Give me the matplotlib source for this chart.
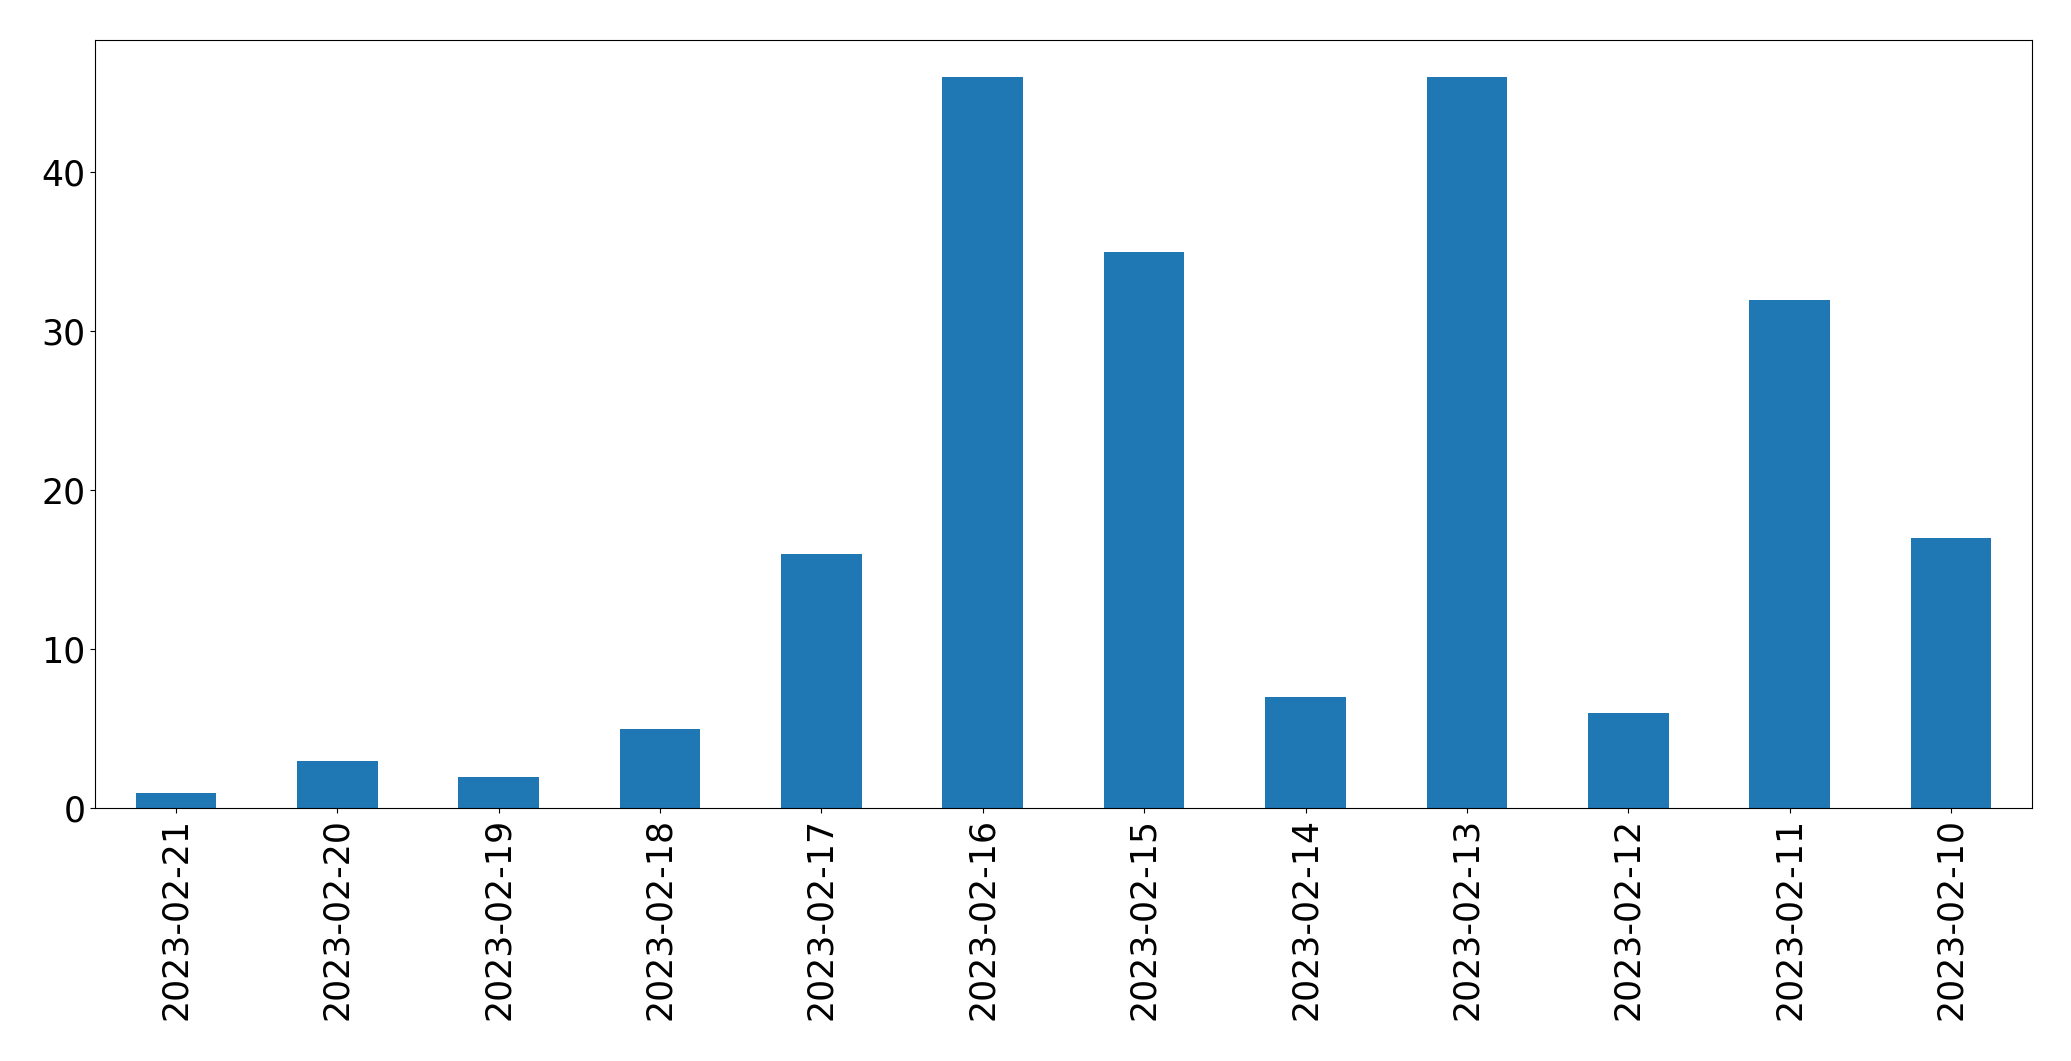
import matplotlib
matplotlib.use('Agg')
import matplotlib.pyplot as plt
import pandas as pd

dates = ['2023-02-21', '2023-02-20', '2023-02-19', '2023-02-18', '2023-02-17',
         '2023-02-16', '2023-02-15', '2023-02-14', '2023-02-13', '2023-02-12',
         '2023-02-11', '2023-02-10']
counts = [1, 3, 2, 5, 16, 46, 35, 7, 46, 6, 32, 17]

s = pd.Series(counts, index=dates)

fig, ax = plt.subplots(figsize=(20.71, 10.61), dpi=100)
s.plot(kind='bar', ax=ax, color='#1f77b4')
ax.tick_params(axis='both', labelsize=25)

fig.subplots_adjust(left=0.046, right=0.981, top=0.962, bottom=0.238)
fig.savefig('out.png', dpi=100)
